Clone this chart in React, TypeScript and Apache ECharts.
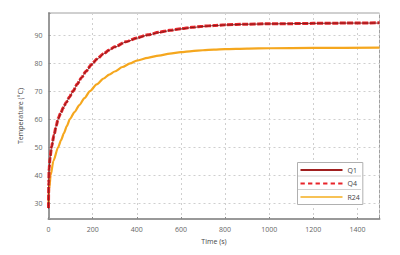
import React, { useEffect, useRef } from "react";
import * as echarts from "echarts";

const q1Time = [0, 0.5, 1, 3, 7, 14, 25, 35, 44, 55, 67, 80, 95, 112, 130, 150, 170, 195, 220, 250, 275, 300, 350, 400, 450, 500, 550, 600, 650, 700, 750, 800, 900, 1000, 1100, 1200, 1350, 1500];
const q1Temp = [28, 33, 37, 42, 46, 50, 54, 57.5, 60, 62, 64, 65.8, 67.8, 70, 72.4, 74.8, 77.0, 79.4, 81.4, 83.3, 84.6, 85.7, 87.5, 88.9, 90.0, 90.9, 91.6, 92.2, 92.7, 93.1, 93.4, 93.6, 93.9, 94.0, 94.1, 94.2, 94.3, 94.3];

const q4Time = [0, 0.5, 1, 3, 7, 14, 25, 35, 44, 55, 67, 80, 95, 112, 130, 150, 170, 195, 220, 250, 275, 300, 350, 400, 450, 500, 550, 600, 650, 700, 750, 800, 900, 1000, 1100, 1200, 1350, 1500];
const q4Temp = [28.2, 33.5, 37.2, 42.3, 46.2, 50.2, 54.3, 57.6, 60.2, 62.1, 64.1, 65.9, 67.9, 70.1, 72.5, 74.9, 77.1, 79.5, 81.5, 83.4, 84.7, 85.8, 87.6, 89.0, 90.1, 91.0, 91.7, 92.3, 92.8, 93.2, 93.4, 93.7, 93.9, 94.1, 94.1, 94.2, 94.3, 94.4];

const r24Time = [0, 1, 3, 10, 22, 44, 57, 70, 83, 97, 118, 140, 163, 188, 218, 250, 275, 300, 335, 370, 400, 450, 500, 550, 600, 650, 700, 750, 800, 900, 1000, 1200, 1500];
const r24Temp = [30, 33, 35, 40, 45, 50, 52.5, 55, 57.5, 60, 62.5, 65, 67.5, 70, 72.4, 74.5, 75.9, 77, 78.6, 79.9, 80.9, 81.9, 82.7, 83.4, 83.9, 84.3, 84.6, 84.8, 85.0, 85.2, 85.3, 85.45, 85.5];

const xTicks = [0, 200, 400, 600, 800, 1000, 1200, 1400];
const yTicks = [30, 40, 50, 60, 70, 80, 90];

const seriesNames = ["Q1", "Q4", "R24"];

const pairs = (t: number[], v: number[]) => t.map((x, i) => [x, v[i]]);

const solidIcon = "path://M0,0h42v2h-42z";
const dashIcon = "path://M0,0h4v2h-4zM7,0h4v2h-4zM14,0h4v2h-4zM21,0h4v2h-4zM28,0h4v2h-4zM35,0h4v2h-4z";

export default function App() {
  const ref = useRef<HTMLDivElement>(null);
  useEffect(() => {
    if (!ref.current) return;
    const chart = echarts.init(ref.current, undefined, { renderer: "svg" });
    const font = "Open Sans";
    chart.setOption({
      animation: false,
      backgroundColor: "#ffffff",
      textStyle: { fontFamily: font },
      grid: {
        left: 48.5,
        right: 20.5,
        top: 13,
        bottom: 36,
        show: true,
        borderColor: "#a0a0a0",
        borderWidth: 1,
      },
      xAxis: {
        type: "value",
        min: 0,
        max: 1500,
        interval: 200,
        name: "Time (s)",
        nameLocation: "middle",
        nameGap: 17,
        nameTextStyle: { fontSize: 7, color: "#444", fontFamily: font },
        axisLine: { show: true, lineStyle: { color: "#999", width: 2 } },
        axisTick: { show: true, inside: true, length: 2, lineStyle: { color: "#888" } },
        axisLabel: {
          fontSize: 7,
          color: "#666",
          margin: 7,
          formatter: (v: number) => (xTicks.includes(v) ? String(v) : ""),
        },
        splitLine: { show: true, lineStyle: { color: "#cfcfcf", type: [2, 3], width: 1 } },
      },
      yAxis: {
        type: "value",
        min: 24.3,
        max: 97.9,
        splitNumber: 8,
        name: "Temperature (°C)",
        nameLocation: "middle",
        nameGap: 25,
        nameTextStyle: { fontSize: 7, color: "#444", fontFamily: font },
        axisLine: { show: true, lineStyle: { color: "#999", width: 2 } },
        axisTick: { show: true, inside: true, length: 2, lineStyle: { color: "#888" } },
        axisLabel: {
          fontSize: 7,
          color: "#666",
          margin: 6,
          formatter: (v: number) => (yTicks.includes(Math.round(v * 1000) / 1000) ? String(v) : ""),
        },
        splitLine: { show: true, lineStyle: { color: "#cfcfcf", type: [2, 3], width: 1 } },
      },
      legend: {
        show: true,
        orient: "vertical",
        left: 297.5,
        top: 162.5,
        itemWidth: 42,
        itemHeight: 2.2,
        itemGap: 4.5,
        padding: [3, 3, 3, 3],
        backgroundColor: "#ffffff",
        borderColor: "#b0b0b0",
        borderWidth: 1,
        data: [
          { name: seriesNames[0], icon: solidIcon, itemStyle: { color: "#a01f1f" } },
          { name: seriesNames[1], icon: dashIcon, itemStyle: { color: "#e8242a" } },
          { name: seriesNames[2], icon: solidIcon, itemStyle: { color: "#f7c256" } },
        ],
        textStyle: { fontSize: 7, color: "#444", fontFamily: font, lineHeight: 9 },
      },
      graphic: [
        { type: "line", z: 100, shape: { x1: 298, y1: 176, x2: 361, y2: 176 }, style: { stroke: "#d0d0d0", lineWidth: 1 } },
        { type: "line", z: 100, shape: { x1: 298, y1: 189.5, x2: 361, y2: 189.5 }, style: { stroke: "#d0d0d0", lineWidth: 1 } },
      ],
      series: [
        {
          name: "Q1",
          type: "line",
          data: pairs(q1Time, q1Temp),
          showSymbol: false,
          symbol: "none",
          smooth: 0.25,
          smoothMonotone: "x",
          z: 5,
          itemStyle: { color: "#a01f1f" },
          lineStyle: { color: "#7d1818", width: 0.9 },
        },
        {
          name: "Q4",
          type: "line",
          data: pairs(q4Time, q4Temp),
          showSymbol: false,
          symbol: "none",
          smooth: 0.25,
          smoothMonotone: "x",
          z: 4,
          itemStyle: { color: "#e8242a" },
          lineStyle: { color: "#e5262b", width: 3, type: [6, 1.5] },
        },
        {
          name: "R24",
          type: "line",
          data: pairs(r24Time, r24Temp),
          showSymbol: false,
          symbol: "none",
          smooth: 0.25,
          smoothMonotone: "x",
          z: 3,
          itemStyle: { color: "#f5a71e" },
          lineStyle: { color: "#f5a71e", width: 2.2 },
        },
      ],
    });
    return () => chart.dispose();
  }, []);
  return (
    <div
      ref={ref}
      style={{ position: "fixed", left: 0, top: 0, width: 400, height: 255 }}
    />
  );
}
